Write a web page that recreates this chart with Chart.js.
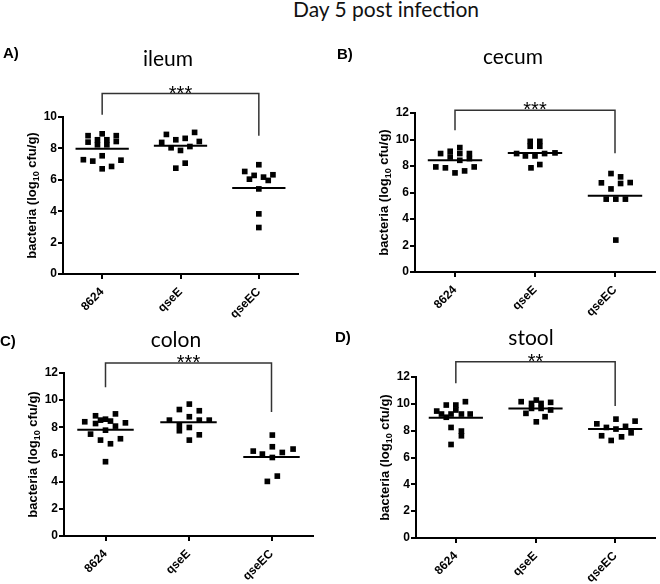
<!DOCTYPE html>
<html>
<head>
<meta charset="utf-8">
<script src="https://cdn.jsdelivr.net/npm/chart.js@4.4.0/dist/chart.umd.min.js"></script>
<style>
  body { margin: 0; background: #fff; }
  #wrap { position: relative; width: 660px; height: 584px; overflow: hidden; }
  canvas { position: absolute; }
  #main-title { position: absolute; left: 236px; top: -4px; width: 300px; text-align: center; font: 21px/1.2 Lato, sans-serif; color: #111; }
</style>
</head>
<body>
<div id="wrap">
  <div id="main-title">Day 5 post infection</div>
  <canvas id="c-ileum" width="330" height="292" style="left:0;top:28px"></canvas>
  <canvas id="c-cecum" width="330" height="292" style="left:330px;top:28px"></canvas>
  <canvas id="c-colon" width="330" height="264" style="left:0;top:320px"></canvas>
  <canvas id="c-stool" width="330" height="264" style="left:330px;top:320px"></canvas>
</div>
<script>
const groups = ["8624", "qseE", "qseEC"];

// ileum (log10 cfu/g), one array per strain, plus horizontal scatter of each point
const ileumValues = [
	[8.81, 8.40, 8.93, 8.55, 8.23, 8.55, 8.23, 8.81, 8.44, 7.28, 7.19, 7.53, 6.85, 7.25, 6.70],
	[8.89, 8.55, 8.64, 9.02, 8.44, 8.38, 8.04, 7.87, 8.12, 6.74, 7.06],
	[6.96, 6.53, 6.28, 6.04, 6.17, 6.32, 5.96, 5.42, 3.83, 2.96]
];
const ileumJitter = [
	[-0.18, -0.18, 0, -0.06, -0.06, 0.06, 0.06, 0.18, 0.18, -0.24, -0.12, 0, 0.12, 0.24, 0],
	[-0.18, -0.06, 0.06, 0.18, 0.24, -0.24, -0.12, 0, 0.12, -0.06, 0.06],
	[0, -0.18, -0.06, -0.12, 0.06, 0.18, 0.12, 0, 0, 0]
];
const ileumMeans = [7.98, 8.17, 5.47];
const ileumBracket = [10.15, 11.49, 8.81];

// cecum
const cecumValues = [
	[8.94, 9.11, 8.68, 9.39, 8.94, 8.43, 8.94, 8.56, 7.93, 7.86, 7.48, 7.63, 7.93],
	[9.86, 9.49, 9.86, 9.49, 8.94, 8.76, 8.76, 8.94, 8.99, 7.86, 8.11],
	[7.43, 7.18, 6.68, 6.73, 6.27, 6.75, 5.50, 5.50, 5.50, 2.41]
];
const cecumJitter = [
	[-0.18, -0.06, -0.06, 0.06, 0.06, 0.06, 0.18, 0.18, -0.24, -0.12, 0, 0.12, 0.24],
	[-0.06, -0.06, 0.06, 0.06, -0.23, -0.12, 0, 0.12, 0.25, -0.05, 0.06],
	[-0.05, 0.07, 0.07, -0.17, -0.05, 0.19, -0.11, 0.01, 0.13, 0.01]
];
const cecumMeans = [8.43, 8.99, 5.75];
const cecumBracket = [10.7, 12.2, 8.96];

// colon
const colonValues = [
	[8.41, 8.85, 8.60, 8.99, 8.33, 8.28, 8.53, 8.46, 8.09, 7.79, 7.50, 7.06, 6.79, 7.16, 5.47],
	[9.71, 9.31, 9.22, 8.78, 8.53, 8.53, 8.53, 8.16, 7.75, 7.99, 7.45, 7.06],
	[7.43, 6.57, 6.25, 6.03, 5.78, 6.15, 6.40, 4.41, 4.02]
];
const colonJitter = [
	[-0.25, -0.12, 0, 0.12, 0.24, -0.12, -0.06, 0.06, 0.12, 0, -0.18, -0.06, 0.06, 0.18, 0],
	[0.01, -0.11, 0.13, 0.01, -0.23, 0.13, 0.25, -0.11, -0.11, 0.01, 0.13, 0.01],
	[0.01, 0.01, -0.22, -0.11, 0.01, 0.13, 0.26, 0.07, -0.05]
];
const colonMeans = [7.82, 8.38, 5.81];
const colonBracket = [10.96, 12.74, 9.12];

// stool
const stoolValues = [
	[9.46, 9.91, 9.91, 10.16, 9.24, 9.24, 9.24, 9.24, 9.54, 8.24, 7.97, 7.62, 6.97, 9.0],
	[10.16, 10.03, 10.28, 10.03, 10.11, 9.29, 9.66, 9.66, 9.54, 9.04, 8.66],
	[8.86, 8.71, 8.51, 8.24, 8.12, 8.32, 7.84, 7.62, 7.27, 7.54]
];
const stoolJitter = [
	[-0.24, -0.12, 0, 0.12, -0.18, -0.06, 0.07, 0.18, 0, -0.06, 0.07, 0.07, -0.06, -0.12],
	[-0.18, -0.05, 0.01, 0.07, 0.19, -0.12, -0.05, 0.07, 0.19, 0.12, 0.01],
	[0.01, 0.25, -0.23, -0.11, 0.01, 0.13, 0.2, -0.17, -0.05, 0.08]
];
const stoolMeans = [8.96, 9.66, 8.12];
const stoolBracket = [11.54, 13.14, 9.84];


const AXIS_FONT = { family: '"Liberation Sans", Arial, sans-serif', size: 12, weight: 'bold' };

// letters, panel titles, slanted strain names, significance stars and the y title (with subscript)
const panelText = {
	id: 'panelText',
	afterDraw(chart, args, o) {
		let ctx = chart.ctx;
		let a = chart.chartArea;
		let xs = chart.scales.x, ys = chart.scales.y;
		ctx.save();
		ctx.fillStyle = '#000';

		ctx.font = 'bold 15px "Liberation Sans", Arial, sans-serif';
		ctx.textAlign = 'left';
		ctx.textBaseline = 'middle';
		ctx.fillText(o.letter, o.letterX, o.letterY);

		// strain names at 45 degrees, ending under each tick
		ctx.font = 'bold 12px "Liberation Sans", Arial, sans-serif';
		ctx.textAlign = 'right';
		groups.forEach(function(name, i) {
			ctx.save();
			ctx.translate(xs.getPixelForValue(i + 1), a.bottom + 16);
			ctx.rotate(-Math.PI / 4);
			ctx.fillText(name, 0, 0);
			ctx.restore();
		});

		ctx.font = '21px Lato, sans-serif';
		ctx.textAlign = 'center';
		ctx.textBaseline = 'alphabetic';
		ctx.fillText(o.title, o.titleX, o.titleY);

		ctx.font = '20px "Liberation Sans", Arial, sans-serif';
		let sx = (xs.getPixelForValue(1) + xs.getPixelForValue(3)) / 2;
		ctx.fillText(o.stars, sx, ys.getPixelForValue(o.bracketTop) + 6);

		ctx.translate(a.left - 32, (a.top + a.bottom) / 2);
		ctx.rotate(-Math.PI / 2);
		let big = 'bold 13px "Liberation Sans", Arial, sans-serif';
		let small = 'bold 9px "Liberation Sans", Arial, sans-serif';
		let parts = [["bacteria (log", big, 0], ["10", small, 3], [" cfu/g)", big, 0]];
		let total = 0;
		parts.forEach(function(p) { ctx.font = p[1]; total += ctx.measureText(p[0]).width; });
		let cx = -total / 2;
		ctx.textAlign = 'left';
		parts.forEach(function(p) {
			ctx.font = p[1];
			ctx.fillText(p[0], cx, 4.5 + p[2]);
			cx += ctx.measureText(p[0]).width;
		});
		ctx.restore();
	}
};
Chart.register(panelText);


function makePanel(canvasId, p) {

	let canvas = document.getElementById(canvasId);
	let w = canvas.width, h = canvas.height;
	let datasets = [];

	p.values.forEach(function(vals, g) {
		datasets.push({
			data: vals.map((v, i) => ({ x: g + 1 + p.jitter[g][i], y: v })),
			pointStyle: 'rect',
			pointRadius: 4,
			pointHoverRadius: 4,
			backgroundColor: '#000',
			borderWidth: 0,
			showLine: false
		});
		datasets.push({
			data: [{ x: g + 1 - 0.34, y: p.means[g] }, { x: g + 1 + 0.34, y: p.means[g] }],
			showLine: true,
			borderColor: '#000',
			borderWidth: 2,
			pointRadius: 0
		});
	});

	datasets.push({
		data: [
			{ x: 1, y: p.bracket[0] }, { x: 1, y: p.bracket[1] },
			{ x: 3, y: p.bracket[1] }, { x: 3, y: p.bracket[2] }
		],
		showLine: true,
		borderColor: '#333',
		borderWidth: 1.5,
		pointRadius: 0,
		clip: false
	});

	let grid = { drawOnChartArea: false, drawTicks: true, tickLength: 5, color: '#000', lineWidth: 2 };
	let border = { color: '#000', width: 2 };

	return new Chart(canvas, {
		type: 'scatter',
		data: { datasets: datasets },
		options: {
			responsive: false,
			animation: false,
			devicePixelRatio: 1,
			layout: { padding: { top: p.area.top, right: w - p.area.right, bottom: 0, left: 0 } },
			plugins: {
				legend: { display: false },
				tooltip: { enabled: false },
				panelText: {
					letter: p.letter, letterX: p.letterPos[0], letterY: p.letterPos[1],
					title: p.title, titleX: p.titlePos[0], titleY: p.titlePos[1],
					stars: p.stars, bracketTop: p.bracket[1]
				}
			},
			scales: {
				x: {
					type: 'linear',
					min: 0.5,
					max: 3.5,
					afterBuildTicks: function(s) { s.ticks = [1, 2, 3].map(v => ({ value: v })); },
					afterFit: function(s) { s.height = h - p.area.bottom; },
					ticks: { display: false },
					grid: grid,
					border: border
				},
				y: {
					min: 0,
					max: p.yMax,
					afterFit: function(s) { s.width = p.area.left; },
					ticks: { stepSize: 2, padding: 1, color: '#000', font: AXIS_FONT },
					grid: grid,
					border: border
				}
			}
		}
	});

}


makePanel("c-ileum", {
	values: ileumValues, jitter: ileumJitter, means: ileumMeans, bracket: ileumBracket,
	yMax: 10, stars: "***", title: "ileum", letter: "A)",
	area: { left: 63, right: 298, top: 89, bottom: 246 },
	titlePos: [168, 38], letterPos: [3, 26]
});

makePanel("c-cecum", {
	values: cecumValues, jitter: cecumJitter, means: cecumMeans, bracket: cecumBracket,
	yMax: 12, stars: "***", title: "cecum", letter: "B)",
	area: { left: 85, right: 325, top: 85, bottom: 244 },
	titlePos: [183, 36], letterPos: [7, 27]
});

makePanel("c-colon", {
	values: colonValues, jitter: colonJitter, means: colonMeans, bracket: colonBracket,
	yMax: 12, stars: "***", title: "colon", letter: "C)",
	area: { left: 64, right: 313, top: 53, bottom: 216 },
	titlePos: [176, 27], letterPos: [0, 22]
});

makePanel("c-stool", {
	values: stoolValues, jitter: stoolJitter, means: stoolMeans, bracket: stoolBracket,
	yMax: 12, stars: "**", title: "stool", letter: "D)",
	area: { left: 86, right: 325, top: 57, bottom: 218 },
	titlePos: [201, 25], letterPos: [5, 18]
});
</script>
</body>
</html>
